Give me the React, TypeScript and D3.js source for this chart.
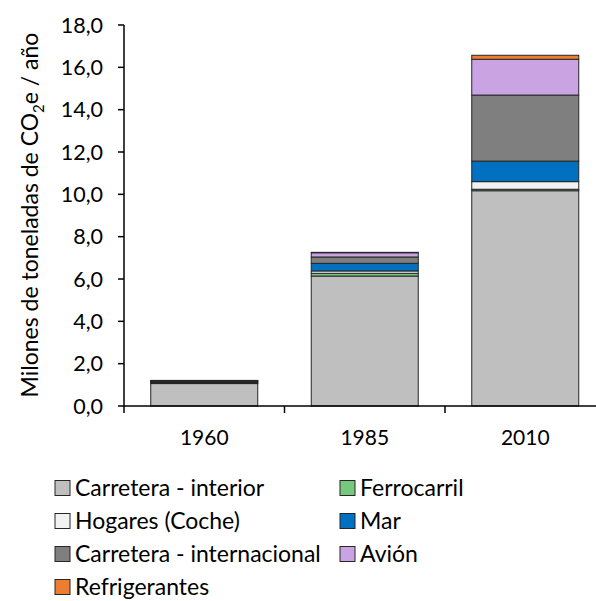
import React from "react";
import * as d3 from "d3";

const categories = ["1960", "1985", "2010"];
const seriesNames = [
  "Carretera - interior",
  "Ferrocarril",
  "Hogares (Coche)",
  "Mar",
  "Carretera - internacional",
  "Avión",
  "Refrigerantes",
];
const carreteraInterior = [1.06, 6.14, 10.17];
const ferrocarril = [0.03, 0.13, 0.07];
const hogares = [0.02, 0.11, 0.36];
const mar = [0.05, 0.36, 0.97];
const carreteraInternacional = [0.03, 0.3, 3.12];
const avion = [0.01, 0.2, 1.69];
const refrigerantes = [0.01, 0.02, 0.19];
const seriesColors = ["#BFBFBF", "#77C77F", "#F2F2F2", "#0070C0", "#7F7F7F", "#C9A3E2", "#ED7D31"];
const yTicks = [0, 2, 4, 6, 8, 10, 12, 14, 16, 18];
const legendOrder = [0, 1, 2, 3, 4, 5, 6];

const W = 596;
const H = 601;

export default function App() {
  const values = [carreteraInterior, ferrocarril, hogares, mar, carreteraInternacional, avion, refrigerantes];
  const rows = categories.map((c, i) => {
    const r: any = { cat: c };
    seriesNames.forEach((s, j) => (r[s] = values[j][i]));
    return r;
  });
  const stack = d3.stack<any>().keys(seriesNames)(rows);

  const x = d3.scaleBand().domain(categories).range([124, 605.5]).paddingInner(1 / 3).paddingOuter(1 / 6);
  const y = d3.scaleLinear().domain([0, 18]).range([406, 25]);
  const font = "Lato, 'Open Sans', sans-serif";

  return (
    <svg width={W} height={H} style={{ position: "absolute", left: 0, top: 0, background: "#fff" }}>
      {stack.map((layer, j) => (
        <g key={j}>
          {layer.map((d, i) => (
            <rect
              key={i}
              x={x(categories[i])!}
              width={x.bandwidth()}
              y={y(d[1])}
              height={Math.max(0, y(d[0]) - y(d[1]))}
              fill={seriesColors[j]}
              stroke="#262626"
              strokeWidth={1}
            />
          ))}
        </g>
      ))}
      <line x1={124} x2={124} y1={y(18)} y2={413} stroke="#000" strokeWidth={1.5} />
      {yTicks.map((t) => (
        <g key={t}>
          <line x1={118} x2={124} y1={y(t)} y2={y(t)} stroke="#000" strokeWidth={1.5} />
          <text x={103} y={y(t)} dy="0.35em" textAnchor="end" fontFamily={font} fontSize={21.5} fill="#000">
            {d3.format(".1f")(t).replace(".", ",")}
          </text>
        </g>
      ))}
      <line x1={124} x2={W} y1={406} y2={406} stroke="#000" strokeWidth={1.5} />
      {categories.map((c, i) => {
        const bx = 124 + (i + 1) * x.step();
        return (
          <g key={c}>
            <line x1={bx} x2={bx} y1={406} y2={413} stroke="#000" strokeWidth={1.5} />
            <text x={x(c)! + x.bandwidth() / 2} y={438} dy="0.35em" textAnchor="middle" fontFamily={font} fontSize={21}>
              {c}
            </text>
          </g>
        );
      })}
      <text
        transform="translate(30,215) rotate(-90)"
        textAnchor="middle"
        dy="0.35em"
        fontFamily={font}
        fontSize={23}
      >
        Milones de toneladas de CO
        <tspan fontSize={15} dy="6">2</tspan>
        <tspan dy="-6">e / año</tspan>
      </text>
      {legendOrder.map((j, k) => {
        const col = k % 2;
        const row = Math.floor(k / 2);
        const lx = col === 0 ? 55 : 340;
        const ly = 488 + row * 33;
        return (
          <g key={j}>
            <rect x={lx} y={ly - 7.5} width={15} height={15} fill={seriesColors[j]} stroke="#262626" strokeWidth={1} />
            <text x={lx + 20} y={ly} dy="0.35em" fontFamily={font} fontSize={23}>
              {seriesNames[j]}
            </text>
          </g>
        );
      })}
    </svg>
  );
}
